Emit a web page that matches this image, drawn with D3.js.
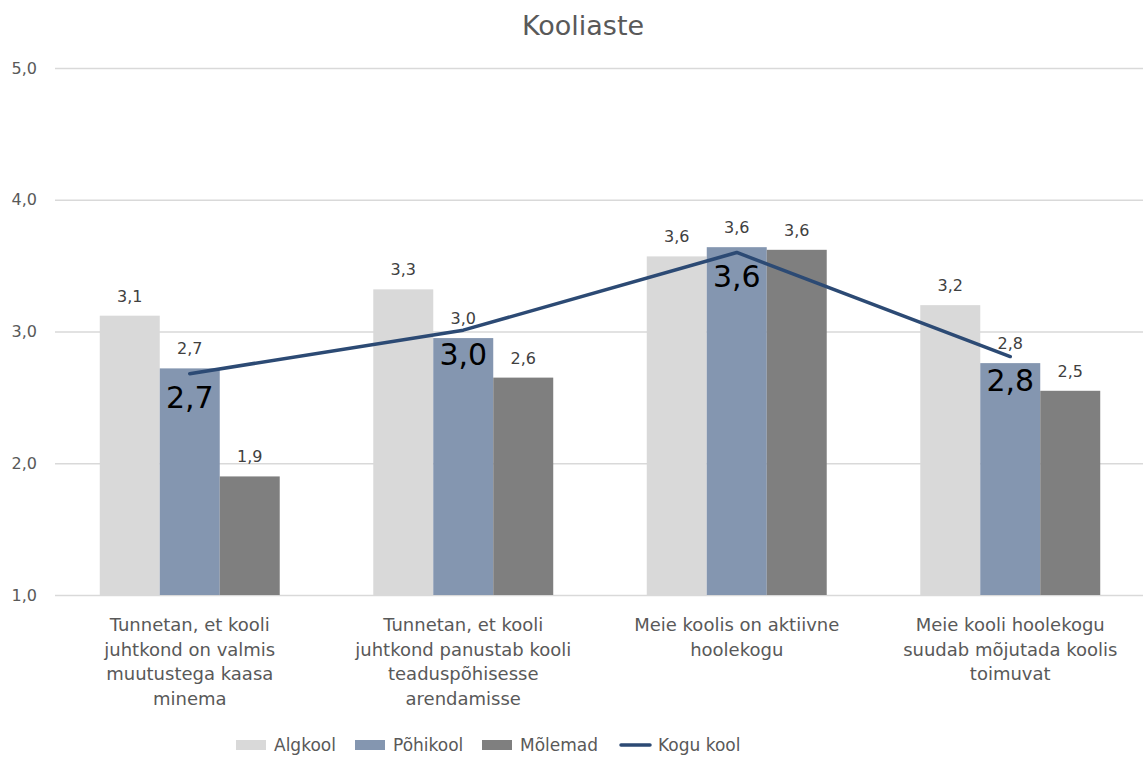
<!DOCTYPE html>
<html lang="et">
<head>
<meta charset="utf-8">
<script src="https://d3js.org/d3.v7.min.js"></script>
<style type="text/css">
body {
	margin: 0;
	background-color: #ffffff;
}
text {
	font-family: "DejaVu Sans", sans-serif;
}
</style>
</head>
<body>
<script type="text/javascript">

// chart data
var categories = [
	["Tunnetan, et kooli", "juhtkond on valmis", "muutustega kaasa", "minema"],
	["Tunnetan, et kooli", "juhtkond panustab kooli", "teaduspõhisesse", "arendamisse"],
	["Meie koolis on aktiivne", "hoolekogu"],
	["Meie kooli hoolekogu", "suudab mõjutada koolis", "toimuvat"]
];
var seriesNames = ["Algkool", "Põhikool", "Mõlemad"];
var algkool = [3.12, 3.32, 3.57, 3.20];
var pohikool = [2.72, 2.95, 3.64, 2.76];
var molemad = [1.90, 2.65, 3.62, 2.55];
var koguKool = [2.68, 3.01, 3.60, 2.81];
var yTicks = [1, 2, 3, 4, 5];

var barColors = ["#d9d9d9", "#8496b0", "#7f7f7f"];
var lineColor = "#2c4a74";

var width = 1143;
var height = 760;

var svg = d3.select("body")
	.append("svg")
	.attr("width", width)
	.attr("height", height);

var fmt = function(v) { return d3.format(".1f")(v).replace(".", ","); };

// scales
var x = d3.scaleBand()
	.domain(d3.range(categories.length))
	.range([53, 1147])
	.paddingInner(0.342)
	.paddingOuter(0.171);

var xSub = d3.scaleBand()
	.domain(d3.range(seriesNames.length))
	.range([0, x.bandwidth()]);

var y = d3.scaleLinear()
	.domain([1, 5])
	.range([595, 68]);

// title
svg.append("text")
	.attr("x", 583)
	.attr("y", 35)
	.attr("text-anchor", "middle")
	.style("font-size", "27px")
	.style("fill", "#595959")
	.text("Kooliaste");

// gridlines + y axis labels
var yAxis = d3.axisLeft(y)
	.tickValues(yTicks)
	.tickSize(-(1143 - 55))
	.tickPadding(18)
	.tickFormat(fmt);

var gy = svg.append("g")
	.attr("transform", "translate(55,0)")
	.call(yAxis);
gy.select(".domain").remove();
gy.selectAll(".tick line").style("stroke", "#d9d9d9").style("stroke-width", 1.5);
gy.selectAll(".tick text")
	.attr("font-size", null)
	.style("font-size", "16px")
	.style("fill", "#595959")
	.style("font-family", "DejaVu Sans, sans-serif");

// bars
var seriesData = [algkool, pohikool, molemad];
seriesData.forEach(function(vals, s) {
	svg.append("g").selectAll("rect")
		.data(vals)
		.enter()
		.append("rect")
		.attr("x", function(d, i) { return x(i) + xSub(s); })
		.attr("y", function(d) { return y(d); })
		.attr("width", xSub.bandwidth())
		.attr("height", function(d) { return y(1) - y(d); })
		.style("fill", barColors[s]);

	svg.append("g").selectAll("text")
		.data(vals)
		.enter()
		.append("text")
		.attr("x", function(d, i) { return x(i) + xSub(s) + xSub.bandwidth() / 2; })
		.attr("y", function(d) { return y(d) - 14; })
		.attr("text-anchor", "middle")
		.style("font-size", "16px")
		.style("fill", "#404040")
		.text(function(d) { return fmt(d); });
});

// Kogu kool line
var line = d3.line()
	.x(function(d, i) { return x(i) + x.bandwidth() / 2; })
	.y(function(d) { return y(d); });

svg.append("path")
	.datum(koguKool)
	.attr("d", line)
	.style("fill", "none")
	.style("stroke", lineColor)
	.style("stroke-width", 3.5)
	.style("stroke-linejoin", "round")
	.style("stroke-linecap", "round");

svg.append("g").selectAll("text")
	.data(koguKool)
	.enter()
	.append("text")
	.attr("x", function(d, i) { return x(i) + x.bandwidth() / 2; })
	.attr("y", function(d) { return y(d) + 24; })
	.attr("text-anchor", "middle")
	.attr("dy", "0.35em")
	.style("font-size", "30px")
	.style("fill", "#000000")
	.text(function(d) { return fmt(d); });

// category labels
categories.forEach(function(lines, i) {
	var t = svg.append("text")
		.attr("text-anchor", "middle")
		.style("font-size", "18px")
		.style("fill", "#595959");
	lines.forEach(function(l, k) {
		t.append("tspan")
			.attr("x", x(i) + x.bandwidth() / 2)
			.attr("y", 631 + k * 24.5)
			.text(l);
	});
});

// legend
var legendItems = [
	{name: "Algkool", x: 236, type: "rect", color: barColors[0]},
	{name: "Põhikool", x: 355, type: "rect", color: barColors[1]},
	{name: "Mõlemad", x: 482, type: "rect", color: barColors[2]},
	{name: "Kogu kool", x: 620, type: "line", color: lineColor}
];
var lg = svg.append("g");
legendItems.forEach(function(it) {
	if (it.type === "rect") {
		lg.append("rect")
			.attr("x", it.x)
			.attr("y", 740)
			.attr("width", 30)
			.attr("height", 10)
			.style("fill", it.color);
	} else {
		lg.append("line")
			.attr("x1", it.x + 1)
			.attr("x2", it.x + 30)
			.attr("y1", 745)
			.attr("y2", 745)
			.style("stroke", it.color)
			.style("stroke-width", 3.5)
			.style("stroke-linecap", "round");
	}
	lg.append("text")
		.attr("x", it.x + 38)
		.attr("y", 751)
		.style("font-size", "17px")
		.style("fill", "#595959")
		.text(it.name);
});

</script>
</body>
</html>
